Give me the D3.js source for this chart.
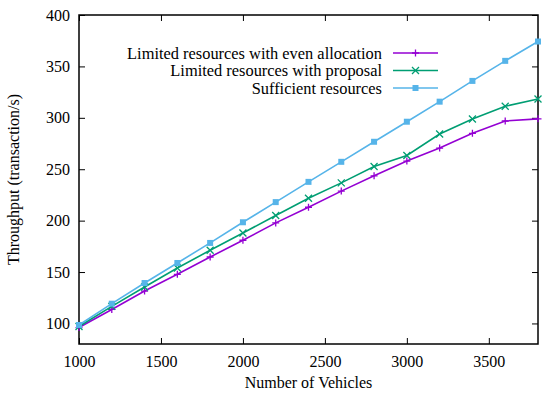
<!DOCTYPE html>
<html>
<head>
<meta charset="utf-8">
<script src="https://cdn.jsdelivr.net/npm/d3@7"></script>
<style>
  body { margin: 0; background: #fff; }
</style>
</head>
<body>
<div id="chart"></div>
<script>
// Throughput vs number of vehicles
const vehicles = [1000, 1200, 1400, 1600, 1800, 2000, 2200, 2400, 2600, 2800, 3000, 3200, 3400, 3600, 3800]
const evenAllocation = [96, 113.6, 131.5, 147.8, 164.6, 180.9, 197.8, 213, 228.7, 243.6, 257.9, 270.6, 284.9, 296.9, 299]
const withProposal = [97, 116.6, 135.4, 153.9, 171.2, 188, 205, 221.8, 236.7, 252.7, 263.4, 284.2, 298.8, 311.2, 318.3]
const sufficient = [98.5, 119.2, 139.3, 158.8, 178.3, 198.4, 218, 237.7, 257.2, 276.7, 296.2, 315.7, 335.9, 355.4, 374.2]
const xTicks = [1000, 1500, 2000, 2500, 3000, 3500]
const yTicks = [100, 150, 200, 250, 300, 350, 400]

const series = [
  { name: "Limited resources with even allocation", values: evenAllocation, color: "#9400D3", marker: "plus" },
  { name: "Limited resources with proposal", values: withProposal, color: "#009E73", marker: "cross" },
  { name: "Sufficient resources", values: sufficient, color: "#56B4E9", marker: "square" }
]

const fontFamily = "Liberation Serif"
const W = 550, H = 399
const margin = { top: 15, right: 12, bottom: 55, left: 79 }
const width = W - margin.left - margin.right
const height = H - margin.top - margin.bottom

const svg = d3.select("#chart").append("svg")
  .attr("width", W)
  .attr("height", H)
  .attr("font-family", fontFamily)
  .attr("font-size", 16)

const g = svg.append("g").attr("transform", `translate(${margin.left},${margin.top})`)

const x = d3.scaleLinear().domain([1000, 3800]).range([0, width])
const y = d3.scaleLinear().domain([80, 400]).range([height, 0])

// ticks pointing inward on all sides
const tickLen = 6
function tidy(a) {
  a.attr("font-family", fontFamily).attr("font-size", 16)
  a.select(".domain").remove()
  a.selectAll(".tick line").attr("stroke", "#000")
  a.selectAll(".tick text").attr("fill", "#000")
}
g.append("g")
  .attr("transform", `translate(0,${height})`)
  .call(d3.axisBottom(x).tickValues(xTicks).tickSizeInner(-tickLen).tickSizeOuter(0).tickPadding(12).tickFormat(d3.format("d")))
  .call(tidy)
g.append("g")
  .call(d3.axisTop(x).tickValues(xTicks).tickSizeInner(-tickLen).tickSizeOuter(0).tickFormat(""))
  .call(tidy)
g.append("g")
  .call(d3.axisLeft(y).tickValues(yTicks).tickSizeInner(-tickLen).tickSizeOuter(0).tickPadding(9).tickFormat(d3.format("d")))
  .call(tidy)
g.append("g")
  .attr("transform", `translate(${width},0)`)
  .call(d3.axisRight(y).tickValues(yTicks).tickSizeInner(-tickLen).tickSizeOuter(0).tickFormat(""))
  .call(tidy)

// frame
g.append("rect")
  .attr("width", width)
  .attr("height", height)
  .attr("fill", "none")
  .attr("stroke", "#000")
  .attr("stroke-width", 1.5)

function drawMarker(sel, type, color, cx, cy, s) {
  if (type === "plus") {
    sel.append("path")
      .attr("d", `M${cx - s},${cy}H${cx + s}M${cx},${cy - s}V${cy + s}`)
      .attr("stroke", color).attr("stroke-width", 1.3)
  } else if (type === "cross") {
    sel.append("path")
      .attr("d", `M${cx - s},${cy - s}L${cx + s},${cy + s}M${cx - s},${cy + s}L${cx + s},${cy - s}`)
      .attr("stroke", color).attr("stroke-width", 1.3)
  } else {
    sel.append("rect")
      .attr("x", cx - s).attr("y", cy - s)
      .attr("width", 2 * s).attr("height", 2 * s)
      .attr("fill", color)
  }
}

const lineGen = d3.line()
  .x((d, i) => x(vehicles[i]))
  .y(d => y(d))

const plot = g.append("g")
series.forEach(s => {
  plot.append("path")
    .datum(s.values)
    .attr("fill", "none")
    .attr("stroke", s.color)
    .attr("stroke-width", 1.6)
    .attr("d", lineGen)
  s.values.forEach((v, i) => {
    drawMarker(plot, s.marker, s.color, x(vehicles[i]), y(v), s.marker === "square" ? 3 : 3.5)
  })
})

// legend
const legend = g.append("g")
series.forEach((s, i) => {
  const ly = 38 + i * 17.5
  legend.append("text")
    .attr("x", 303)
    .attr("y", ly)
    .attr("dy", "0.35em")
    .attr("text-anchor", "end")
    .attr("font-size", 16.4)
    .text(s.name)
  legend.append("line")
    .attr("x1", 314).attr("x2", 359)
    .attr("y1", ly).attr("y2", ly)
    .attr("stroke", s.color)
    .attr("stroke-width", 1.6)
  drawMarker(legend, s.marker, s.color, 336.5, ly, s.marker === "square" ? 3 : 3.5)
})

// axis titles
svg.append("text")
  .attr("x", margin.left + width / 2)
  .attr("y", 388)
  .attr("text-anchor", "middle")
  .text("Number of Vehicles")

svg.append("text")
  .attr("transform", `translate(19,${margin.top + height / 2}) rotate(-90)`)
  .attr("text-anchor", "middle")
  .text("Throughput (transaction/s)")
</script>
</body>
</html>
